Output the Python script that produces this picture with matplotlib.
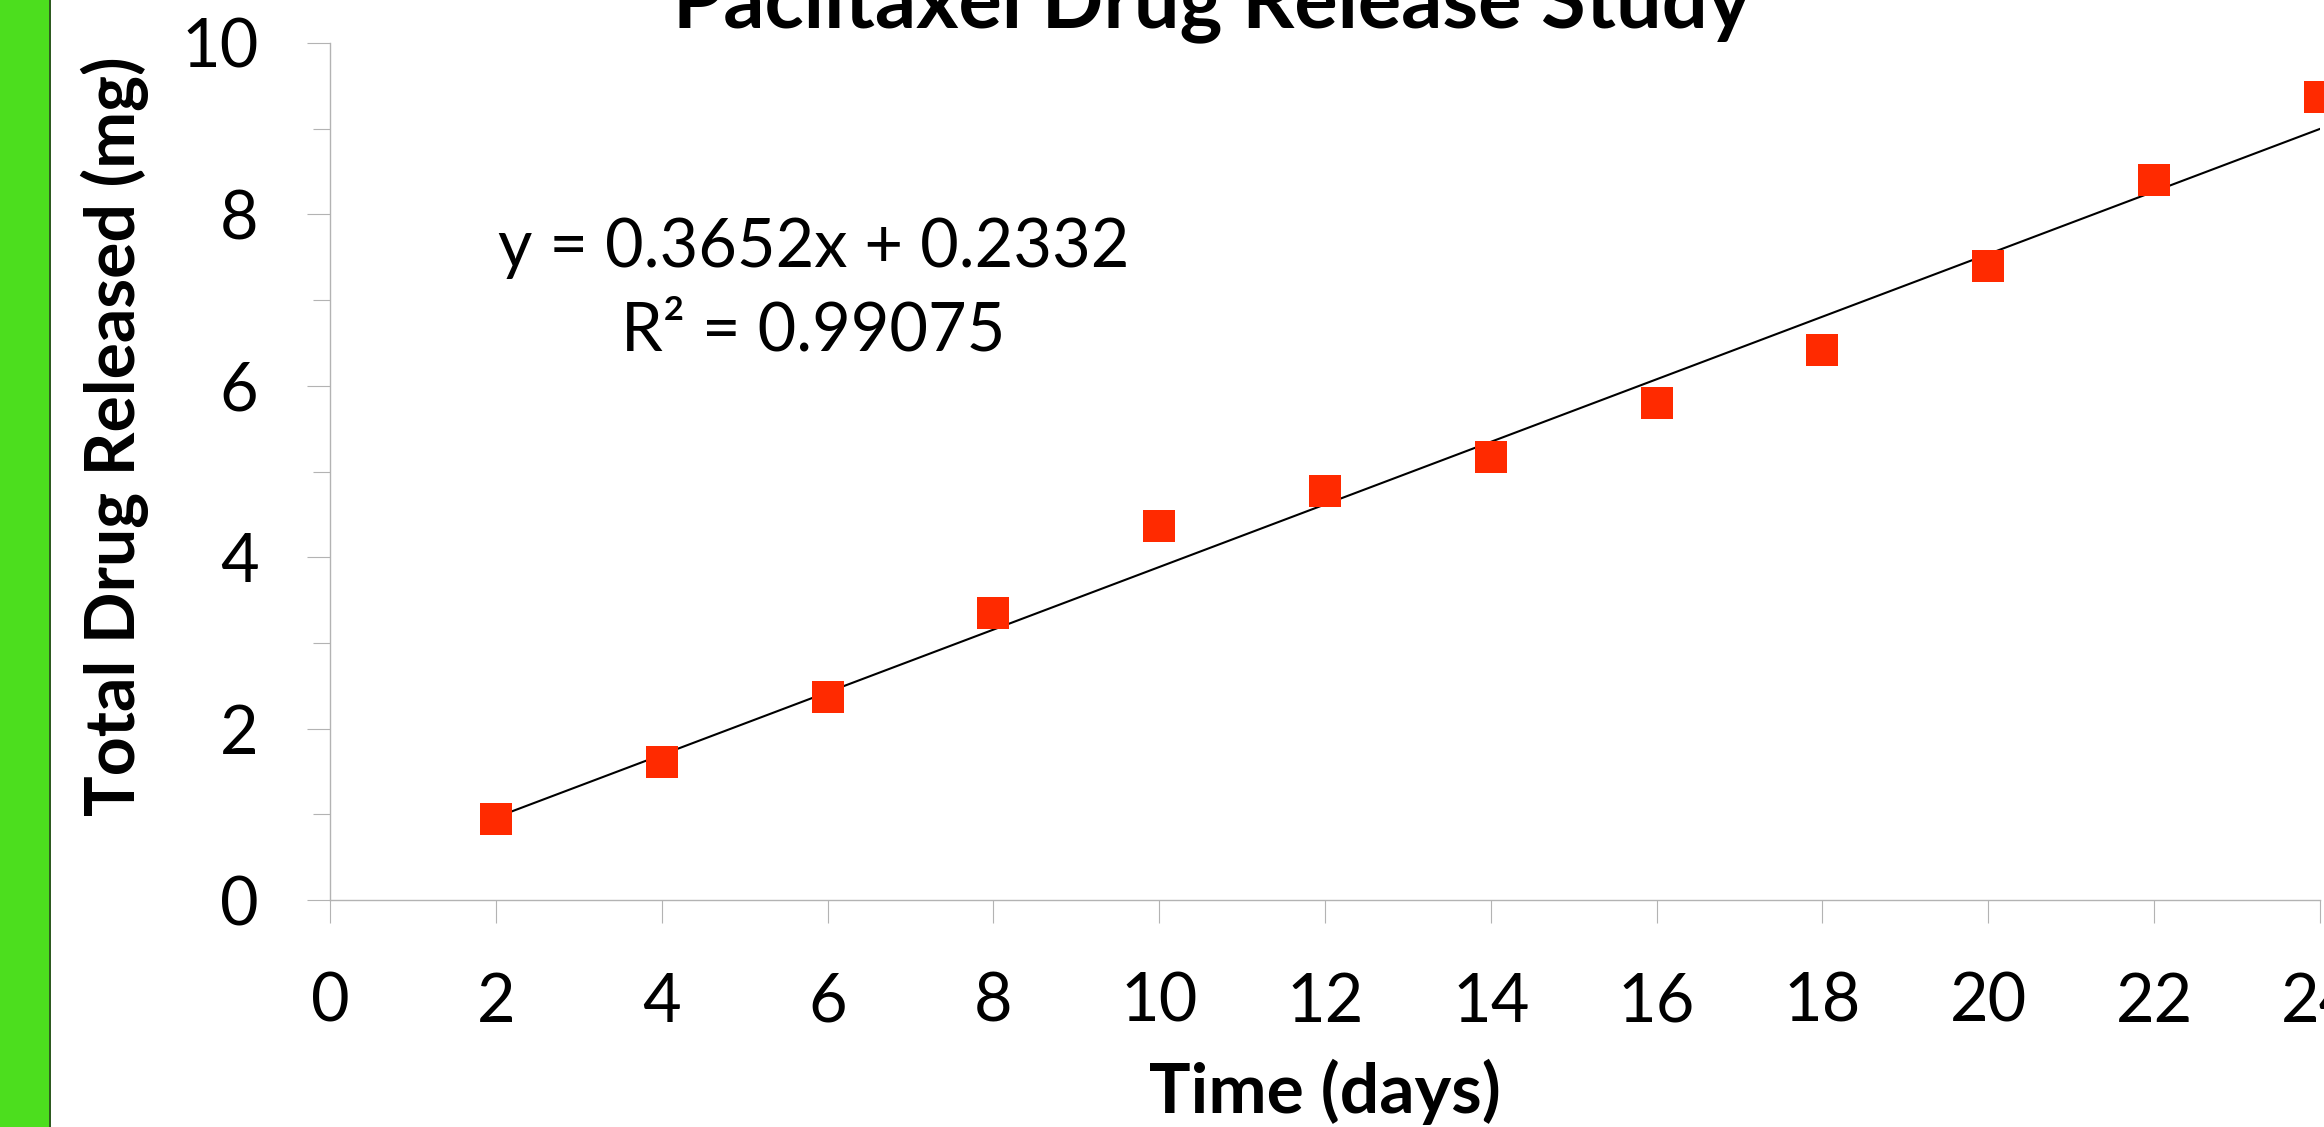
import numpy as np
import matplotlib
matplotlib.use("Agg")
import matplotlib.pyplot as plt
from matplotlib.patches import Rectangle

# data
days = [2, 4, 6, 8, 10, 12, 14, 16, 18, 20, 22, 24]
released_mg = [0.94, 1.61, 2.37, 3.35, 4.36, 4.77, 5.17, 5.80, 6.42, 7.40, 8.40, 9.37]

slope = 0.3652
intercept = 0.2332
r_squared = 0.99075

x_ticks = [0, 2, 4, 6, 8, 10, 12, 14, 16, 18, 20, 22, 24]
y_ticks = [0, 2, 4, 6, 8, 10]
y_minor = [1, 3, 5, 7, 9]

plt.rcParams['font.family'] = ['Lato', 'DejaVu Sans']

W, H = 2324, 1127
fig = plt.figure(figsize=(W / 100, H / 100), dpi=100)
fig.patch.set_facecolor('white')

# green strip on the left
fig.patches.append(Rectangle((0, 0), 49 / W, 1, transform=fig.transFigure,
                             facecolor='#4CDE1E', edgecolor='none'))
fig.patches.append(Rectangle((49 / W, 0), 1.5 / W, 1, transform=fig.transFigure,
                             facecolor='#2E5A20', edgecolor='none'))

ax = fig.add_axes([330 / W, 1 - 900 / H, (2320 - 330) / W, (900 - 43) / H])
ax.set_xlim(0, 24)
ax.set_ylim(0, 10)

grey = '#B3B3B3'
for s in ['top', 'right']:
    ax.spines[s].set_visible(False)
for s in ['left', 'bottom']:
    ax.spines[s].set_color(grey)
    ax.spines[s].set_linewidth(1.0)

ax.set_xticks(x_ticks)
ax.set_yticks(y_ticks)
ax.set_yticks(y_minor, minor=True)
ax.tick_params(axis='both', which='major', direction='out', length=16.5, width=0.8,
               color=grey, labelsize=48)
ax.tick_params(axis='y', which='minor', direction='out', length=12.2, width=0.8, color=grey)
ax.tick_params(axis='y', which='major', pad=35)
ax.tick_params(axis='x', which='major', pad=35)

# trend line
xfit = np.array([days[0], days[-1]])
ax.plot(xfit, slope * xfit + intercept, color='black', lw=1.5, zorder=2)

ax.plot(days, released_mg, linestyle='none', marker='s', markersize=23,
        color='#FF2A00', markeredgewidth=0, zorder=3, clip_on=False)

ax.text(5.83, 7.61, f"y = {slope}x + {intercept}", fontsize=48, ha='center', va='center')
ax.text(5.83, 6.63, f"R² = {r_squared}", fontsize=48, ha='center', va='center')

fig.text(1212 / W, 1 - 27 / H, "Paclitaxel Drug Release Study", fontsize=58.5,
         fontweight='bold', ha='center', va='baseline')
fig.text(1325 / W, 1 - 1092 / H, "Time (days)", fontsize=50, fontweight='bold',
         ha='center', va='center')
fig.text(115 / W, 1 - 436 / H, "Total Drug Released (mg)", fontsize=49,
         fontweight='bold', rotation=90, ha='center', va='center')

fig.savefig("out.png", dpi=100)
